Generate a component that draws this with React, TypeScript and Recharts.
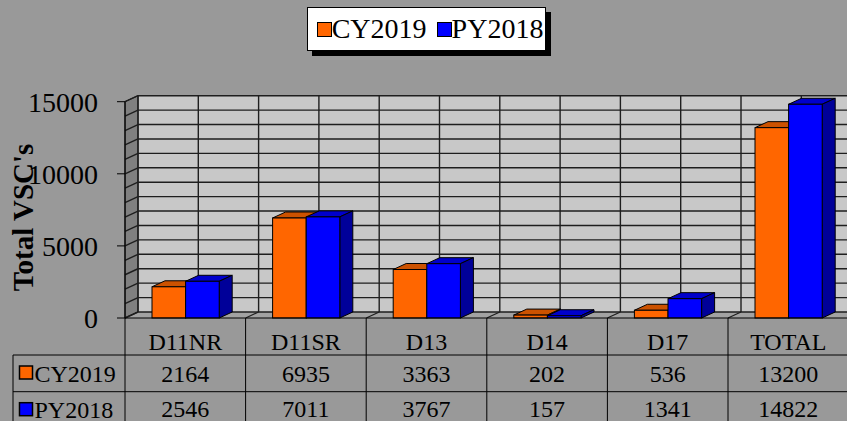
import React from "react"
import { BarChart, Bar, XAxis, YAxis, Legend, ReferenceArea } from "recharts"

const categories = ["D11NR", "D11SR", "D13", "D14", "D17", "TOTAL"]
const cy2019 = [2164, 6935, 3363, 202, 536, 13200]
const py2018 = [2546, 7011, 3767, 157, 1341, 14822]
const seriesNames = ["CY2019", "PY2018"]
const yTicks = [0, 5000, 10000, 15000]
const gridValues = [0, 1000, 2000, 3000, 4000, 5000, 6000, 7000, 8000, 9000, 10000, 11000, 12000, 13000, 14000, 15000]

const data = categories.map((name, i) => ({ name, cy: cy2019[i], py: py2018[i] }))
const rows = [
  { label: seriesNames[0], values: cy2019, color: "#FF6600" },
  { label: seriesNames[1], values: py2018, color: "#0000FF" },
]

const Y_MAX = 15000
const DX = 13
const DY = 6
const CHART_W = 862
const CHART_H = 421
const YAXIS_W = 125
const MARGIN = { top: 101.7, right: 13.4, left: 0, bottom: 0 }
const PLOT_W = CHART_W - YAXIS_W - MARGIN.right - MARGIN.left
const BAND = PLOT_W / categories.length
const FONT = "'Liberation Serif', 'Times New Roman', serif"
const GRID = "#1e1e1e"

const Walls = (props: any) => {
  const { x, y, width, height } = props
  const yOf = (v: number) => y + height * (1 - v / Y_MAX)
  const bottom = y + height
  const halves = Array.from({ length: categories.length * 2 + 1 }, (_, k) => x + DX + (k * width) / (categories.length * 2))
  const bounds = Array.from({ length: categories.length + 1 }, (_, k) => x + (k * width) / categories.length)
  return (
    <g>
      <rect x={x + DX} y={y - DY} width={width} height={height} fill="#C8C8C8" />
      <polygon
        points={`${x},${y} ${x + DX},${y - DY} ${x + DX},${bottom - DY} ${x},${bottom}`}
        fill="#808080"
        stroke="#000"
      />
      <polygon
        points={`${x},${bottom} ${x + DX},${bottom - DY} ${x + width + DX},${bottom - DY} ${x + width},${bottom}`}
        fill="#A2A2A2"
      />
      {gridValues.map((v) => (
        <g key={v}>
          <line x1={x} y1={yOf(v)} x2={x + DX} y2={yOf(v) - DY} stroke={GRID} strokeWidth={1.4} />
          <line x1={x + DX} y1={yOf(v) - DY} x2={x + width + DX} y2={yOf(v) - DY} stroke={GRID} strokeWidth={1.4} />
        </g>
      ))}
      {halves.map((hx, k) => (
        <line key={k} x1={hx} y1={y - DY} x2={hx} y2={bottom - DY} stroke={GRID} strokeWidth={1.4} />
      ))}
      {bounds.map((bx, k) => (
        <line key={k} x1={bx} y1={bottom} x2={bx + DX} y2={bottom - DY} stroke={GRID} strokeWidth={1.2} />
      ))}
    </g>
  )
}

const Box3D = (props: any) => {
  const { x, y, width, height, fill, topFill, sideFill } = props
  if (height == null || isNaN(height)) return null
  const b = y + height
  return (
    <g stroke="#000" strokeWidth={1}>
      <polygon points={`${x},${y} ${x + width},${y} ${x + width + DX},${y - DY} ${x + DX},${y - DY}`} fill={topFill} />
      <polygon points={`${x + width},${y} ${x + width + DX},${y - DY} ${x + width + DX},${b - DY} ${x + width},${b}`} fill={sideFill} />
      <rect x={x} y={y} width={width} height={height} fill={fill} />
    </g>
  )
}

const TableTick = (props: any) => {
  const { x, y, payload, index } = props
  const i = index ?? payload.index
  const left = x - BAND / 2
  const right = x + BAND / 2
  const r1 = y + 37
  const r2 = y + 73.7
  const end = y + 115
  return (
    <g fontFamily={FONT} fontSize={24} fill="#000">
      <line x1={left} y1={y} x2={right} y2={y} stroke="#000" />
      <line x1={left} y1={r1} x2={right} y2={r1} stroke="#000" />
      <line x1={left} y1={r2} x2={right} y2={r2} stroke="#000" />
      <line x1={right} y1={y} x2={right} y2={end} stroke="#000" />
      {i === 0 && (
        <g>
          <line x1={left} y1={y} x2={left} y2={end} stroke="#000" />
          <line x1={13} y1={r1} x2={left} y2={r1} stroke="#000" />
          <line x1={13} y1={r2} x2={left} y2={r2} stroke="#000" />
          <line x1={13} y1={r1} x2={13} y2={end} stroke="#000" />
          {rows.map((row, k) => {
            const top = k === 0 ? r1 : r2
            return (
              <g key={row.label}>
                <rect x={19.5} y={top + 11} width={13} height={13} fill={row.color} stroke="#000" strokeWidth={1.5} />
                <text x={34.5} y={top + 26.5} fill="#000" fontFamily={FONT}>{row.label}</text>
              </g>
            )
          })}
        </g>
      )}
      <text x={x} y={y + 32} textAnchor="middle" fill="#000" fontFamily={FONT}>{payload.value}</text>
      <text x={x} y={r1 + 26.5} textAnchor="middle" fill="#000" fontFamily={FONT}>{rows[0].values[i]}</text>
      <text x={x} y={r2 + 25} textAnchor="middle" fill="#000" fontFamily={FONT}>{rows[1].values[i]}</text>
    </g>
  )
}

const LegendBox = (props: any) => {
  const items = props.payload || []
  return (
    <div
      style={{
        display: "flex",
        alignItems: "center",
        height: 44,
        boxSizing: "border-box",
        border: "1px solid #000",
        background: "#fff",
        boxShadow: "5px 5px 0 #000",
        paddingLeft: 9,
        paddingRight: 2,
        fontFamily: FONT,
        fontSize: 28,
        color: "#000",
        whiteSpace: "nowrap",
      }}
    >
      {items.map((it: any, k: number) => (
        <span key={it.value} style={{ display: "flex", alignItems: "center", marginLeft: k === 0 ? 0 : 10 }}>
          <span
            style={{
              display: "inline-block",
              width: 15,
              height: 15,
              boxSizing: "border-box",
              border: "1.5px solid #000",
              background: it.color,
            }}
          />
          <span>{it.value}</span>
        </span>
      ))}
    </div>
  )
}

const YTitle = (props: any) => {
  const vb = props.viewBox || { x: 0, y: MARGIN.top, height: 216 }
  const cx = vb.x + 33
  const cy = vb.y + vb.height / 2 + 7.6
  return (
    <text
      x={cx}
      y={cy}
      transform={`rotate(-90, ${cx}, ${cy})`}
      textAnchor="middle"
      fontFamily={FONT}
      fontWeight="bold"
      fontSize={29}
      fill="#000"
    >
      Total VSC's
    </text>
  )
}

export default function App() {
  return (
    <div
      style={{
        position: "absolute",
        left: 0,
        top: 0,
        width: 847,
        height: 421,
        overflow: "hidden",
        background: "#999999",
      }}
    >
      <BarChart width={CHART_W} height={CHART_H} data={data} margin={MARGIN} barGap={0} barSize={33.6}>
        <ReferenceArea y1={0} y2={Y_MAX} shape={(p: any) => <Walls {...p} />} zIndex={-100} />
        <XAxis
          dataKey="name"
          height={CHART_H - MARGIN.top - 216.3}
          axisLine={false}
          tickLine={false}
          tickSize={0}
          tickMargin={0}
          interval={0}
          tick={(p: any) => <TableTick {...p} />}
        />
        <YAxis
          type="number"
          domain={[0, Y_MAX]}
          ticks={yTicks}
          width={YAXIS_W}
          tickSize={8}
          tickMargin={19}
          axisLine={{ stroke: "#000" }}
          tickLine={{ stroke: "#000" }}
          tick={{ fill: "#000", fontSize: 28, fontFamily: FONT }}
          label={{ content: (p: any) => <YTitle {...p} /> }}
        />
        <Legend
          verticalAlign="middle"
          align="center"
          layout="horizontal"
          wrapperStyle={{ top: 7.3, left: 306.7, width: "auto", height: "auto" }}
          content={(p: any) => <LegendBox {...p} />}
        />
        <Bar
          dataKey="cy"
          name={seriesNames[0]}
          fill="#FF6600"
          isAnimationActive={false}
          shape={(p: any) => <Box3D {...p} topFill="#CC5200" sideFill="#B34700" />}
        />
        <Bar
          dataKey="py"
          name={seriesNames[1]}
          fill="#0000FF"
          isAnimationActive={false}
          shape={(p: any) => <Box3D {...p} topFill="#0000CC" sideFill="#000099" />}
        />
      </BarChart>
    </div>
  )
}
